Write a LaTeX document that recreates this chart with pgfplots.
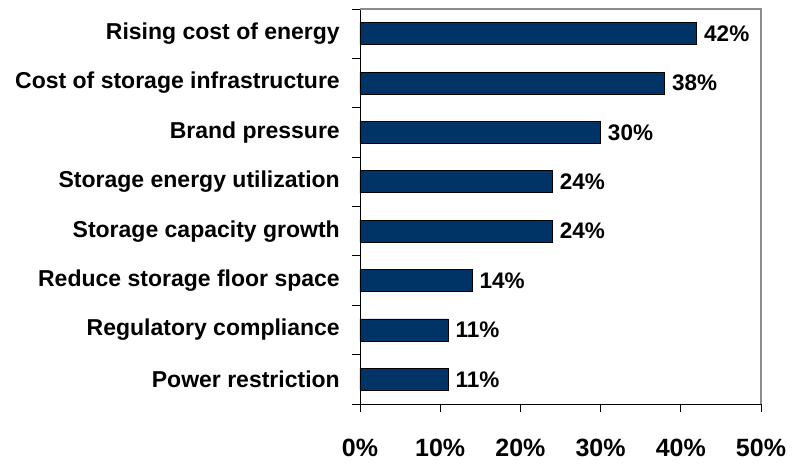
\documentclass[border=0pt]{standalone}
\usepackage{pgfplots}
\pgfplotsset{compat=1.18}
\usepackage{fontspec}
\setmainfont{Liberation Sans}
\definecolor{navy}{RGB}{0,51,102}
\definecolor{framegray}{RGB}{140,140,140}
\pgfplotstableread{
y v
0 42
1 38
2 30
3 24
4 24
5 14
6 11
7 11
}\data
\begin{document}
\begin{tikzpicture}
\begin{axis}[
  scale only axis,
  width=401bp, height=395bp,
  xmin=0, xmax=50,
  ymin=-0.5, ymax=7.5,
  y dir=reverse,
  axis x line*=bottom,
  axis y line*=left,
  axis line style={black, line width=0.9bp},
  xtick={0,10,...,50},
  xticklabel={\pgfmathprintnumber{\tick}\%},
  xticklabel style={font=\fontsize{25bp}{28bp}\selectfont\bfseries, inner sep=0pt, yshift=-27bp},
  /pgf/number format/assume math mode=true,
  tick align=outside,
  major tick length=8bp,
  tick style={black, line width=0.9bp},
  ytick={-0.5,0.5,...,7.5},
  yticklabels={},
  extra y ticks={0,1,2,3,4,5,6,7},
  extra y tick labels={Rising cost of energy, Cost of storage infrastructure, Brand pressure, Storage energy utilization, Storage capacity growth, Reduce storage floor space, Regulatory compliance, Power restriction},
  extra y tick style={major tick length=0pt, tick style={draw=none},
    yticklabel style={font=\fontsize{23bp}{26bp}\selectfont\bfseries, inner sep=0pt, xshift=-20bp, anchor=east}},
  clip=false,
]
\addplot[framegray, line width=1.3bp, mark=none, forget plot] coordinates {(0,-0.5) (50,-0.5) (50,7.5)};
\addplot[xbar, bar width=22bp, fill=navy, draw=black, line width=0.8bp,
  nodes near coords={\pgfmathprintnumber{\pgfplotspointmeta}\%},
  point meta=x,
  nodes near coords style={font=\fontsize{22.5bp}{25bp}\selectfont\bfseries, anchor=west, inner sep=0pt, xshift=7bp, /pgf/number format/assume math mode=true}]
  table[x=v, y=y] {\data};
\coordinate (ll) at (axis description cs:0,0);
\end{axis}
\pgfresetboundingbox
\path[use as bounding box] (ll) ++(-360bp,-64bp) rectangle ++(800bp,468bp);
\end{tikzpicture}
\end{document}
